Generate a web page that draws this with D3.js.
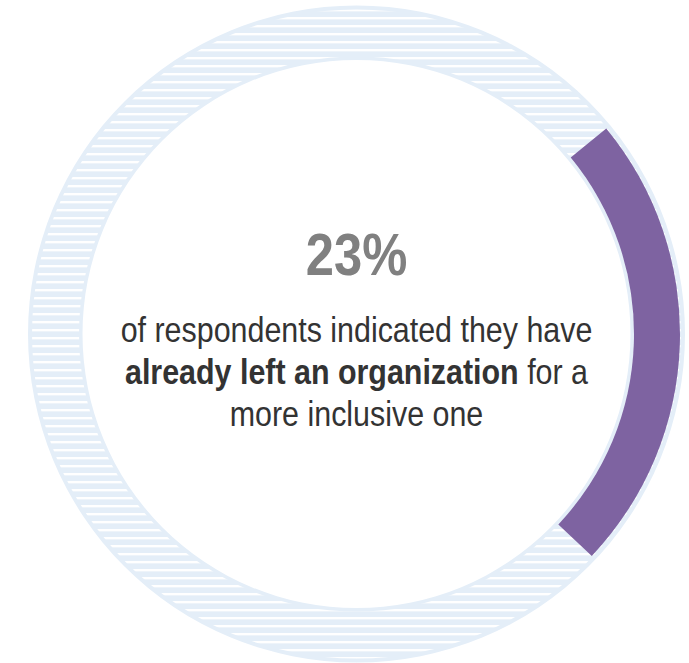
<!DOCTYPE html>
<html>
<head>
<meta charset="utf-8">
<script src="https://cdn.jsdelivr.net/npm/d3@7"></script>
<style>
  body { margin: 0; background: #fff; }
  svg { display: block; }
</style>
</head>
<body>
<div id="chart"></div>
<script>
// donut con un solo valor y texto al centro

const shares = [23, 77];              // porcentaje que ya se fue / resto
const shareLabel = "23%";
const lines = [
  [{ t: "of respondents indicated they have", b: false }],
  [{ t: "already left an organization", b: true }, { t: " for a", b: false }],
  [{ t: "more inclusive one", b: false }]
];

var width = 689;
var height = 663;
var cx = 356.5, cy = 334;
var font = "'Liberation Sans', Arial, sans-serif";
var narrow = 0.845;   // simula Arial Narrow

var svg = d3.select("#chart").append("svg")
    .attr("width", width)
    .attr("height", height);

// rayas horizontales del anillo
var pat = svg.append("defs").append("pattern")
    .attr("id", "stripes")
    .attr("patternUnits", "userSpaceOnUse")
    .attr("width", 8)
    .attr("height", 8);
pat.append("rect").attr("width", 8).attr("height", 8).attr("fill", "#e4eef8");
pat.append("rect").attr("y", 3).attr("width", 8).attr("height", 2.4).attr("fill", "#ffffff");

// angulo: 0..100 -> vuelta completa, empezando a ~50 grados
var angle = d3.scaleLinear()
    .domain([0, 100])
    .range([0.882, 0.882 + 2 * Math.PI]);

var ring = d3.arc().innerRadius(274).outerRadius(328.5)
    .startAngle(0).endAngle(2 * Math.PI);
var inner = d3.arc().innerRadius(277.5).outerRadius(324.5)
    .startAngle(0).endAngle(2 * Math.PI);

svg.append("path")
  .attr("transform", "translate(" + cx + "," + cy + ")")
  .attr("d", ring())
  .attr("fill", "#e4eef8");

svg.append("path")
  .attr("transform", "translate(" + cx + "," + cy + ")")
  .attr("d", inner())
  .attr("fill", "url(#stripes)");

var start = 0;
var segs = shares.map(function(v) {
  var s = { v: v, a0: angle(start), a1: angle(start + v) };
  start += v;
  return s;
});

var valueArc = d3.arc()
    .innerRadius(277.5)
    .outerRadius(323.5)
    .startAngle(function(d) { return d.a0; })
    .endAngle(function(d) { return d.a1; });

svg.append("g")
  .attr("transform", "translate(" + cx + "," + cy + ")")
  .selectAll("path")
  .data(segs.slice(0, 1))
  .enter().append("path")
    .attr("d", valueArc)
    .attr("fill", "#7e63a1");

// textos
svg.append("text")
  .attr("transform", "translate(" + cx + ",275) scale(" + narrow + ",1)")
  .attr("text-anchor", "middle")
  .attr("font-family", font)
  .attr("font-weight", "bold")
  .attr("font-size", "60px")
  .attr("fill", "#808080")
  .text(shareLabel);

var body = svg.append("text")
  .attr("transform", "translate(" + cx + ",0) scale(" + narrow + ",1)")
  .attr("text-anchor", "middle")
  .attr("font-family", font)
  .attr("font-size", "36px")
  .attr("fill", "#333333");

lines.forEach(function(line, i) {
  line.forEach(function(part, j) {
    var ts = body.append("tspan")
      .attr("font-weight", part.b ? "bold" : "normal")
      .text(part.t);
    if (j === 0) ts.attr("x", 0).attr("y", 342 + i * 42);
  });
});
</script>
</body>
</html>
